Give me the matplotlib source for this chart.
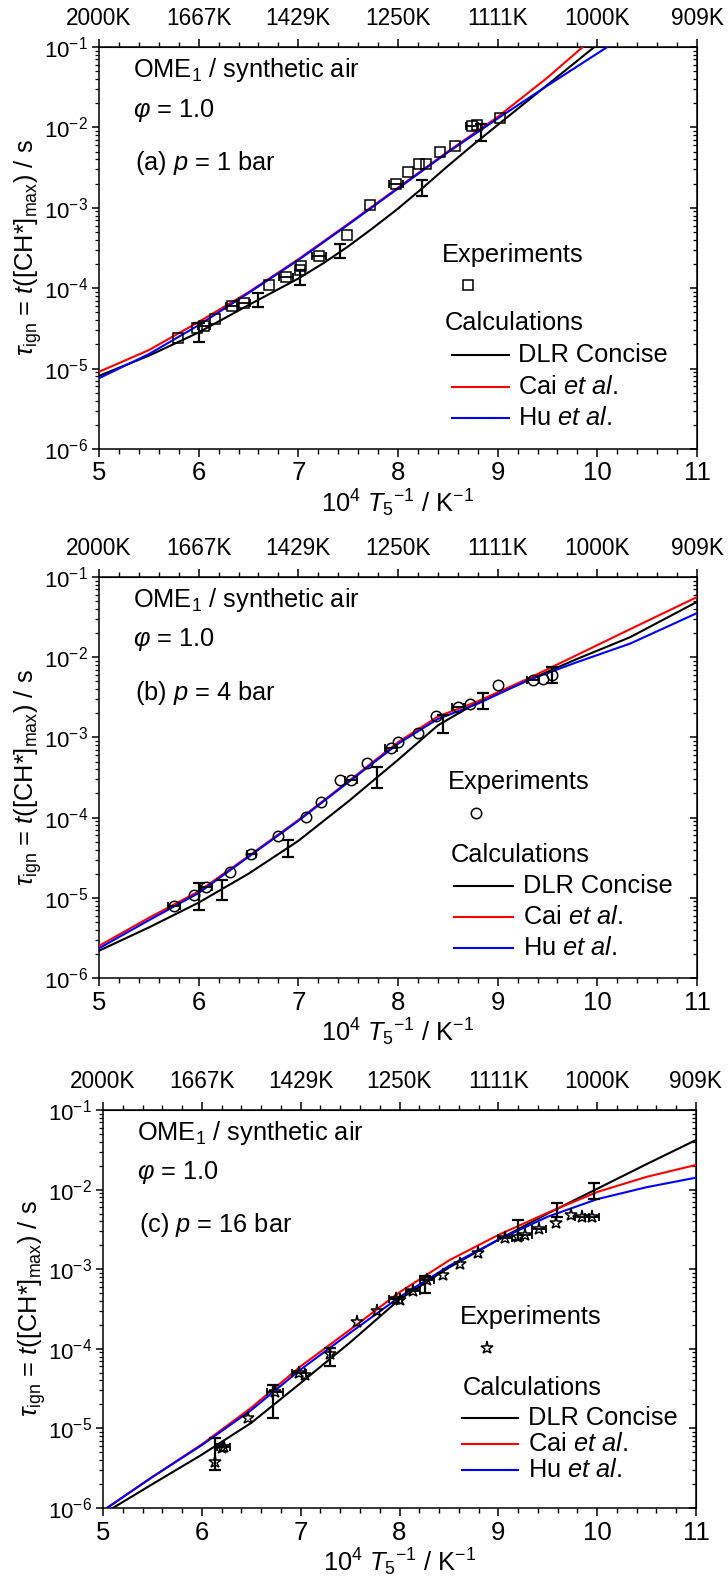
import numpy as np
import matplotlib
matplotlib.use("Agg")
import matplotlib.pyplot as plt
from matplotlib.ticker import FixedLocator, LogLocator, NullFormatter, MultipleLocator, FixedFormatter

plt.rcParams['font.family'] = ['Liberation Sans', 'DejaVu Sans']
plt.rcParams['mathtext.fontset'] = 'custom'
plt.rcParams['mathtext.rm'] = 'Liberation Sans'
plt.rcParams['mathtext.it'] = 'Liberation Sans:italic'
plt.rcParams['mathtext.bf'] = 'Liberation Sans:bold'
plt.rcParams['mathtext.sf'] = 'Liberation Sans'

# ---------------- data (log10 of ignition delay in s) ----------------
top_ticks = [5, 6, 7, 8, 9, 10, 11]
top_labels = ["2000K", "1667K", "1429K", "1250K", "1111K", "1000K", "909K"]

# Panel (a) p = 1 bar
A_black_x = [5.0, 5.5, 6.0, 6.5, 7.0, 7.25, 7.5, 7.75, 8.0, 8.25, 8.5, 8.75, 9.0, 9.5, 10.0]
A_black_lg = [-5.09, -4.84, -4.55, -4.21, -3.88, -3.69, -3.48, -3.25, -3.01, -2.75, -2.48, -2.22, -1.97, -1.47, -0.97]
A_red_x = [5.0, 5.5, 6.0, 6.5, 7.0, 7.5, 8.0, 8.5, 9.0, 9.5, 9.9]
A_red_lg = [-5.04, -4.77, -4.42, -4.05, -3.64, -3.20, -2.75, -2.30, -1.87, -1.38, -0.95]
A_blue_x = [5.0, 5.5, 6.0, 6.5, 7.0, 7.5, 8.0, 8.5, 9.0, 9.5, 10.0, 10.2]
A_blue_lg = [-5.12, -4.82, -4.46, -4.06, -3.65, -3.21, -2.76, -2.31, -1.89, -1.48, -1.08, -0.92]
A_exp_x = [5.79, 5.98, 6.05, 6.16, 6.33, 6.45, 6.71, 6.88, 7.02, 7.03, 7.21, 7.49, 7.72,
           7.98, 8.10, 8.21, 8.28, 8.42, 8.57, 8.74, 8.79, 9.02]
A_exp_lg = [-4.62, -4.50, -4.47, -4.38, -4.22, -4.18, -3.96, -3.86, -3.77, -3.72, -3.60, -3.34, -2.96,
            -2.71, -2.55, -2.46, -2.46, -2.31, -2.23, -1.98, -1.97, -1.88]
A_exp_xerr = [0, 0, 0.06, 0, 0.06, 0.07, 0, 0.07, 0, 0, 0.07, 0, 0,
              0.07, 0, 0, 0, 0, 0, 0.06, 0, 0]
A_err_x = [6.0, 6.6, 7.02, 7.42, 8.24, 8.83]
A_err_lo = [-4.665, -4.24, -3.96, -3.63, -2.85, -2.17]
A_err_hi = [-4.437, -4.06, -3.77, -3.45, -2.65, -1.96]

# Panel (b) p = 4 bar
B_x = [5.0, 5.5, 6.0, 6.5, 7.0, 7.5, 8.0, 8.4, 8.8, 9.3, 9.8, 10.33, 11.0]
B_black_lg = [-5.66, -5.37, -5.06, -4.70, -4.29, -3.80, -3.28, -2.85, -2.56, -2.29, -2.02, -1.75, -1.31]
B_red_lg = [-5.60, -5.25, -4.92, -4.48, -4.03, -3.55, -3.06, -2.74, -2.55, -2.27, -1.97, -1.65, -1.25]
B_blue_lg = [-5.63, -5.28, -4.94, -4.49, -4.04, -3.56, -3.08, -2.77, -2.58, -2.29, -2.06, -1.83, -1.45]
B_exp_x = [5.75, 5.95, 6.07, 6.31, 6.53, 6.80, 7.08, 7.23, 7.42, 7.53, 7.69,
           7.93, 8.00, 8.20, 8.38, 8.60, 8.72, 9.00, 9.35, 9.45, 9.55]
B_exp_lg = [-5.10, -4.97, -4.86, -4.68, -4.46, -4.23, -3.99, -3.81, -3.53, -3.53, -3.32,
            -3.13, -3.06, -2.95, -2.73, -2.62, -2.58, -2.35, -2.28, -2.27, -2.22]
B_exp_xerr = [0.06, 0, 0.06, 0, 0.05, 0, 0, 0, 0, 0.06, 0,
              0.06, 0, 0, 0, 0.06, 0, 0, 0.06, 0, 0]
B_err_x = [6.0, 6.23, 6.90, 7.79, 8.45, 8.85, 9.55]
B_err_lo = [-5.15, -5.03, -4.49, -3.63, -2.95, -2.65, -2.32]
B_err_hi = [-4.82, -4.78, -4.28, -3.37, -2.72, -2.45, -2.12]

# Panel (c) p = 16 bar
C_black_x = [5.1, 5.5, 6.0, 6.5, 7.0, 7.5, 8.0, 8.5, 9.0, 9.5, 10.0, 10.5, 11.0]
C_black_lg = [-6.0, -5.70, -5.33, -4.93, -4.43, -3.92, -3.38, -2.98, -2.63, -2.30, -1.99, -1.68, -1.377]
C_x = [5.04, 5.5, 6.0, 6.5, 7.0, 7.5, 8.0, 8.5, 9.0, 9.5, 10.0, 10.5, 11.0]
C_red_lg = [-6.0, -5.61, -5.20, -4.74, -4.22, -3.76, -3.29, -2.89, -2.57, -2.29, -2.03, -1.84, -1.69]
C_blue_lg = [-6.0, -5.61, -5.21, -4.77, -4.26, -3.80, -3.35, -2.96, -2.63, -2.34, -2.12, -1.97, -1.85]
C_exp_x = [6.13, 6.20, 6.22, 6.47, 6.74, 6.98, 7.04, 7.30, 7.57, 7.77, 7.96, 8.01, 8.14, 8.28,
           8.44, 8.61, 8.79, 9.07, 9.20, 9.27, 9.41, 9.58, 9.74, 9.85, 9.95]
C_exp_lg = [-5.42, -5.25, -5.23, -4.87, -4.54, -4.31, -4.33, -4.06, -3.66, -3.53, -3.37, -3.39, -3.28, -3.14,
            -3.07, -2.93, -2.80, -2.61, -2.59, -2.57, -2.49, -2.42, -2.32, -2.34, -2.34]
C_exp_xerr = [0, 0, 0.07, 0, 0.08, 0.07, 0, 0, 0, 0, 0.07, 0, 0.07, 0.07,
              0, 0, 0, 0.07, 0, 0.07, 0.07, 0, 0, 0.07, 0.07]
C_err_x = [6.13, 6.72, 7.30, 8.26, 9.20, 9.59, 9.97]
C_err_lo = [-5.52, -4.87, -4.22, -3.30, -2.63, -2.34, -2.12]
C_err_hi = [-5.125, -4.45, -3.99, -3.09, -2.38, -2.17, -1.92]

panel_titles = [r"(a) $p$ = 1 bar", r"(b) $p$ = 4 bar", r"(c) $p$ = 16 bar"]
series_names = ["DLR Concise", r"Cai $et\ al.$", r"Hu $et\ al.$"]
series_colors = ["black", "#ff0000", "#0000ff"]

TXT = 18.3

# ---------------- figure ----------------
fig = plt.figure(figsize=(7.28, 15.79), dpi=100)
W, H = 728.0, 1579.0
rects = [(99, 47, 697, 449), (99, 577, 697, 978), (103, 1110, 696, 1508)]


def make_axes(r):
    l, t, rr, b = r
    return fig.add_axes([l / W, 1 - b / H, (rr - l) / W, (b - t) / H])


def p10(a):
    return 10.0 ** np.asarray(a, dtype=float)


def draw(ax, curves, exp, marker, ms, errs, title, leg):
    for (cx, cy), col in zip(curves, series_colors):
        ax.plot(cx, p10(cy), color=col, lw=1.5, zorder=3)
    ex, ey, exerr = exp
    exv = np.asarray(exerr, float)
    sel = exv > 0
    ax.errorbar(np.asarray(ex)[sel], p10(ey)[sel], xerr=exv[sel], fmt='none', ecolor='black',
                elinewidth=1.3, capsize=3, capthick=1.3, zorder=4)
    ax.plot(ex, p10(ey), linestyle='none', marker=marker, ms=ms, mfc='none', mec='black',
            mew=1.1, zorder=5)
    erx, elo, ehi = errs
    mid = np.sqrt(p10(elo) * p10(ehi))
    ax.errorbar(erx, mid, yerr=[mid - p10(elo), p10(ehi) - mid], fmt='none', ecolor='black',
                elinewidth=1.6, capsize=4, capthick=1.6, zorder=6)

    ax.set_xlim(5, 11)
    ax.set_yscale('log')
    ax.set_ylim(1e-6, 1e-1)
    ax.xaxis.set_major_locator(MultipleLocator(1))
    ax.xaxis.set_minor_locator(MultipleLocator(0.2))
    ax.yaxis.set_major_locator(LogLocator(base=10, numticks=10))
    ax.yaxis.set_minor_locator(LogLocator(base=10, subs=np.arange(2, 10), numticks=20))
    ax.yaxis.set_minor_formatter(NullFormatter())
    ax.tick_params(axis='x', which='major', direction='out', length=6, width=1.1, labelsize=18.5, pad=3)
    ax.tick_params(axis='x', which='minor', direction='out', length=3.5, width=1.0)
    ax.tick_params(axis='y', which='major', direction='out', length=5, width=1.1, labelsize=16, pad=3)
    ax.tick_params(axis='y', which='minor', direction='out', length=3, width=0.9)
    for s in ax.spines.values():
        s.set_linewidth(1.1)

    top = ax.secondary_xaxis('top')
    top.xaxis.set_major_locator(FixedLocator(top_ticks))
    top.xaxis.set_major_formatter(FixedFormatter(top_labels))
    top.xaxis.set_minor_locator(MultipleLocator(0.2))
    top.tick_params(axis='x', which='major', direction='out', length=6, width=1.1, labelsize=16.3, pad=6)
    top.tick_params(axis='x', which='minor', direction='out', length=3.5, width=1.0)

    right = ax.secondary_yaxis('right')
    right.set_yscale('log')
    right.yaxis.set_major_locator(LogLocator(base=10, numticks=10))
    right.yaxis.set_minor_locator(LogLocator(base=10, subs=np.arange(2, 10), numticks=20))
    right.yaxis.set_major_formatter(NullFormatter())
    right.yaxis.set_minor_formatter(NullFormatter())
    right.tick_params(axis='y', which='major', direction='in', length=5, width=1.1)
    right.tick_params(axis='y', which='minor', direction='in', length=3, width=0.9)

    ax.set_xlabel(r"10$^4$ $T_5$$^{-1}$ / K$^{-1}$", fontsize=TXT)
    ax.set_ylabel(r"$\tau_{\rm ign}$ = $t$([CH*]$_{\rm max}$) / s", fontsize=TXT)
    ax.yaxis.set_label_coords(-0.092, 0.5)
    ax.xaxis.set_label_coords(0.5, -0.097)

    tx = 0.057
    ax.text(tx, 0.943, r"OME$_1$ / synthetic air", transform=ax.transAxes, fontsize=TXT,
            va='center', ha='left')
    ax.text(tx, 0.843, r"$\varphi$ = 1.0", transform=ax.transAxes, fontsize=TXT,
            va='center', ha='left')
    ax.text(tx + 0.003, 0.711, title, transform=ax.transAxes, fontsize=TXT,
            va='center', ha='left')

    lx, ly_exp, mx, my, ly_cal, lys, l0, l1, ltx = leg
    ax.text(lx, ly_exp, "Experiments", transform=ax.transAxes, fontsize=TXT, va='center', ha='left')
    ax.plot([mx], [my], transform=ax.transAxes, marker=marker, ms=ms, mfc='none', mec='black',
            mew=1.1, linestyle='none', clip_on=False)
    ax.text(lx + 0.005, ly_cal, "Calculations", transform=ax.transAxes, fontsize=TXT,
            va='center', ha='left')
    for yy, name, col in zip(lys, series_names, series_colors):
        ax.plot([l0, l1], [yy, yy], transform=ax.transAxes, color=col, lw=1.5)
        ax.text(ltx, yy, name, transform=ax.transAxes, fontsize=TXT, va='center', ha='left')


axA = make_axes(rects[0])
draw(axA, [(A_black_x, A_black_lg), (A_red_x, A_red_lg), (A_blue_x, A_blue_lg)],
     (A_exp_x, A_exp_lg, A_exp_xerr), 's', 6.5, (A_err_x, A_err_lo, A_err_hi), panel_titles[0],
     (0.573, 0.483, 0.6176, 0.408, 0.313, [0.234, 0.153, 0.076], 0.59, 0.685, 0.70))

axB = make_axes(rects[1])
draw(axB, [(B_x, B_black_lg), (B_x, B_red_lg), (B_x, B_blue_lg)],
     (B_exp_x, B_exp_lg, B_exp_xerr), 'o', 7.5, (B_err_x, B_err_lo, B_err_hi), panel_titles[1],
     (0.584, 0.4895, 0.630, 0.412, 0.307, [0.229, 0.153, 0.074], 0.594, 0.692, 0.709))

axC = make_axes(rects[2])
draw(axC, [(C_black_x, C_black_lg), (C_x, C_red_lg), (C_x, C_blue_lg)],
     (C_exp_x, C_exp_lg, C_exp_xerr), '*', 9.5, (C_err_x, C_err_lo, C_err_hi), panel_titles[2],
     (0.602, 0.48, 0.648, 0.401, 0.3025, [0.227, 0.161, 0.095], 0.606, 0.70, 0.717))

fig.savefig("out.png", dpi=100)
